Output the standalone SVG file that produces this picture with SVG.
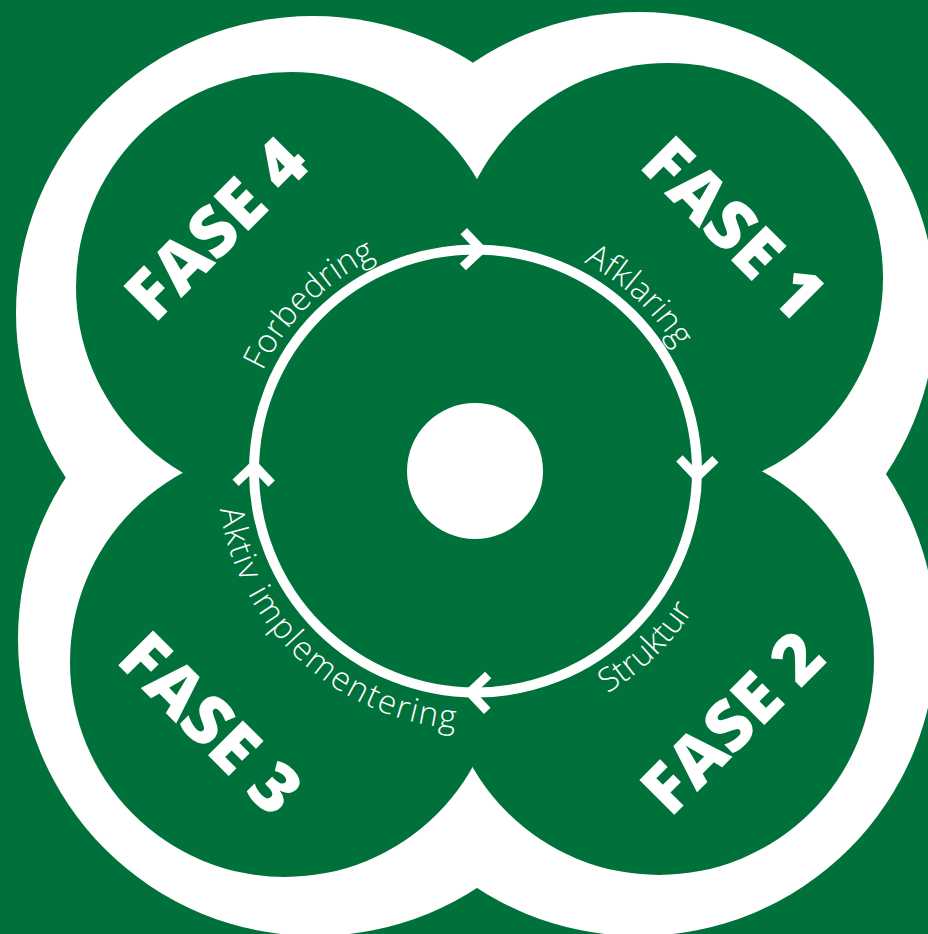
<svg xmlns="http://www.w3.org/2000/svg" xmlns:xlink="http://www.w3.org/1999/xlink" width="928" height="934" viewBox="0 0 928 934">
  <style>
    .bg { fill: #00713A; }
    .white { fill: #FFFFFF; }
    .green { fill: #00713A; }
    .fase { font-family: "Open Sans", "Liberation Sans", sans-serif; font-weight: 800; font-size: 69px; fill: #FFFFFF; text-anchor: middle; }
    .lbl { font-family: "Open Sans", "Liberation Sans", sans-serif; font-weight: 300; font-size: 33px; fill: #FFFFFF; }
    .ring { fill: none; stroke: #FFFFFF; stroke-width: 10; }
    .chev { fill: none; stroke: #FFFFFF; stroke-width: 9; stroke-linejoin: miter; stroke-linecap: butt; }
  </style>
  <defs>
    <path id="chevron" class="chev" d="M -18 -18 L 0 0 L -18 18"/>
    <path id="arcForbedring" d="M 248.5 531.8 A 235 235 0 0 1 536.3 244.0"/>
    <path id="arcAfklaring" d="M 406.8 246.3 A 235 235 0 0 1 704.5 523.9"/>
    <path id="arcStruktur" d="M 404.3 719.5 A 258.5 258.5 0 0 0 726.3 408.5"/>
    <path id="arcAktiv" d="M 223.4 413.7 A 258.5 258.5 0 0 0 551.9 717.9"/>
  </defs>

  <rect class="bg" x="0" y="0" width="928" height="934"/>

  <g id="clover">
    <circle class="white" cx="313" cy="313" r="297"/>
    <circle class="white" cx="639" cy="309" r="297"/>
    <circle class="white" cx="315" cy="639" r="297"/>
    <circle class="white" cx="639" cy="639" r="297"/>
    <circle class="green" cx="291" cy="287" r="215"/>
    <circle class="green" cx="668" cy="278" r="215"/>
    <circle class="green" cx="285" cy="662" r="215"/>
    <circle class="green" cx="659" cy="660" r="215"/>
    <circle class="green" cx="475.5" cy="471" r="250"/>
  </g>

  <g id="fase1">
    <text class="fase" transform="translate(734 228) rotate(45)" y="0" dy="0.36em">FASE 1</text>
  </g>
  <g id="fase2">
    <text class="fase" transform="translate(732 722) rotate(-45)" y="0" dy="0.36em">FASE 2</text>
  </g>
  <g id="fase3">
    <text class="fase" transform="translate(211 723) rotate(45)" y="0" dy="0.36em">FASE 3</text>
  </g>
  <g id="fase4">
    <text class="fase" transform="translate(216 228) rotate(-45)" y="0" dy="0.36em">FASE 4</text>
  </g>

  <g id="connectors">
    <circle class="ring" cx="475.5" cy="471" r="221.5"/>
    <use xlink:href="#chevron" transform="rotate(1.5 475.5 471) translate(475.5 249.5)"/>
    <use xlink:href="#chevron" transform="rotate(91.5 475.5 471) translate(475.5 249.5)"/>
    <use xlink:href="#chevron" transform="rotate(181.5 475.5 471) translate(475.5 249.5)"/>
    <use xlink:href="#chevron" transform="rotate(271.5 475.5 471) translate(475.5 249.5)"/>
  </g>

  <g id="label-afklaring">
    <text class="lbl"><textPath xlink:href="#arcAfklaring" startOffset="50%" text-anchor="middle">Afklaring</textPath></text>
  </g>
  <g id="label-struktur">
    <text class="lbl"><textPath xlink:href="#arcStruktur" startOffset="50%" text-anchor="middle">Struktur</textPath></text>
  </g>
  <g id="label-aktiv">
    <text class="lbl" letter-spacing="1.8"><textPath xlink:href="#arcAktiv" startOffset="50%" text-anchor="middle">Aktiv implementering</textPath></text>
  </g>
  <g id="label-forbedring">
    <text class="lbl"><textPath xlink:href="#arcForbedring" startOffset="50%" text-anchor="middle">Forbedring</textPath></text>
  </g>

  <g id="center">
    <circle class="white" cx="475" cy="471" r="68"/>
  </g>
</svg>
